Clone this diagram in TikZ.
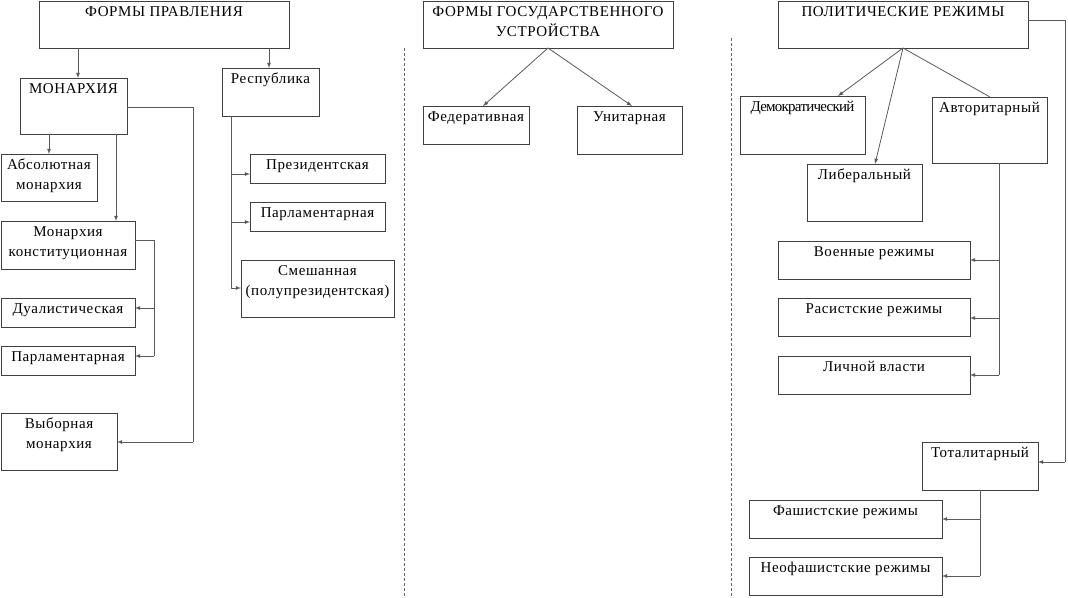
\documentclass[tikz,border=0pt]{standalone}
\usepackage{fontspec}
\setmainfont{Liberation Serif}[LetterSpace = 4]
\usetikzlibrary{arrows}

\begin{document}
\begin{tikzpicture}[x = 1pt, y = -1pt]
\tikzstyle{boxStyle} = [draw = black!75, line width = 1pt, anchor = north west, inner sep = 0pt, outer sep = 0pt]
\tikzstyle{textStyle} = [anchor = north, align = center, inner sep = 5pt, font = \fontsize{15}{20}\selectfont]
\tikzstyle{lineStyle} = [draw = black!65, line width = 0.8pt]
\tikzstyle{arrowStyle} = [lineStyle, -latex]
\tikzstyle{sepStyle} = [draw = black!60, line width = 0.7pt, densely dashed]
\useasboundingbox (0,0) rectangle (1068,597);
% forms of government
\node[boxStyle, minimum width = 250pt, minimum height = 47pt] (formy) at (39,1) {};
\node[textStyle] (formyT) at (formy.north) {ФОРМЫ ПРАВЛЕНИЯ};
\node[boxStyle, minimum width = 107pt, minimum height = 56pt] (mon) at (20,78) {};
\node[textStyle] (monT) at (mon.north) {МОНАРХИЯ};
\node[boxStyle, minimum width = 97pt, minimum height = 48pt] (res) at (222,68) {};
\node[textStyle] (resT) at (res.north) {Республика};
\node[boxStyle, minimum width = 96pt, minimum height = 47pt] (abs) at (1,154) {};
\node[textStyle] (absT) at (abs.north) {Абсолютная\\монархия};
\node[boxStyle, minimum width = 134pt, minimum height = 48pt] (kon) at (1,221) {};
\node[textStyle] (konT) at (kon.north) {Монархия\\конституционная};
\node[boxStyle, minimum width = 134pt, minimum height = 29pt] (dual) at (1,298) {};
\node[textStyle] (dualT) at (dual.north) {Дуалистическая};
\node[boxStyle, minimum width = 134pt, minimum height = 29pt] (parlm) at (1,346) {};
\node[textStyle] (parlmT) at (parlm.north) {Парламентарная};
\node[boxStyle, minimum width = 116pt, minimum height = 57pt] (vyb) at (1,413) {};
\node[textStyle] (vybT) at (vyb.north) {Выборная\\монархия};
\node[boxStyle, minimum width = 135pt, minimum height = 29pt] (pres) at (250,154) {};
\node[textStyle] (presT) at (pres.north) {Президентская};
\node[boxStyle, minimum width = 135pt, minimum height = 29pt] (parlr) at (250,202) {};
\node[textStyle] (parlrT) at (parlr.north) {Парламентарная};
\node[boxStyle, minimum width = 153pt, minimum height = 57pt] (smesh) at (241,260) {};
\node[textStyle] (smeshT) at (smesh.north) {Смешанная\\(полупрезидентская)};
% forms of state structure
\node[boxStyle, minimum width = 250pt, minimum height = 47pt] (fgu) at (423,1) {};
\node[textStyle] (fguT) at (fgu.north) {ФОРМЫ ГОСУДАРСТВЕННОГО\\УСТРОЙСТВА};
\node[boxStyle, minimum width = 106pt, minimum height = 38pt] (fed) at (423,106) {};
\node[textStyle] (fedT) at (fed.north) {Федеративная};
\node[boxStyle, minimum width = 105pt, minimum height = 48pt] (uni) at (577,106) {};
\node[textStyle] (uniT) at (uni.north) {Унитарная};
% political regimes
\node[boxStyle, minimum width = 250pt, minimum height = 47pt] (pr) at (778,1) {};
\node[textStyle] (prT) at (pr.north) {ПОЛИТИЧЕСКИЕ РЕЖИМЫ};
\node[boxStyle, minimum width = 125pt, minimum height = 58pt] (dem) at (740,96) {};
\node[textStyle] (demT) at (dem.north) {\addfontfeatures{LetterSpace = -5}Демократический};
\node[boxStyle, minimum width = 115pt, minimum height = 66pt] (avt) at (932,97) {};
\node[textStyle] (avtT) at (avt.north) {Авторитарный};
\node[boxStyle, minimum width = 115pt, minimum height = 57pt] (lib) at (807,164) {};
\node[textStyle] (libT) at (lib.north) {Либеральный};
\node[boxStyle, minimum width = 192pt, minimum height = 38pt] (voen) at (778,241) {};
\node[textStyle] (voenT) at (voen.north) {Военные режимы};
\node[boxStyle, minimum width = 192pt, minimum height = 38pt] (ras) at (778,298) {};
\node[textStyle] (rasT) at (ras.north) {Расистские режимы};
\node[boxStyle, minimum width = 192pt, minimum height = 38pt] (lich) at (778,356) {};
\node[textStyle] (lichT) at (lich.north) {Личной власти};
\node[boxStyle, minimum width = 116pt, minimum height = 48pt] (tot) at (922,442) {};
\node[textStyle] (totT) at (tot.north) {Тоталитарный};
\node[boxStyle, minimum width = 193pt, minimum height = 38pt] (fash) at (749,500) {};
\node[textStyle] (fashT) at (fash.north) {Фашистские режимы};
\node[boxStyle, minimum width = 193pt, minimum height = 38pt] (neo) at (749,557) {};
\node[textStyle] (neoT) at (neo.north) {Неофашистские режимы};
% separators
\draw[sepStyle] (404,48) -- (404,597);
\draw[sepStyle] (731,38) -- (731,597);
% connectors, left
\draw[arrowStyle] (formy.south -| 78,0) -- (mon.north -| 78,0);
\draw[arrowStyle] (formy.south -| 269,0) -- (res.north -| 269,0);
\draw[arrowStyle] (mon.south -| 49,0) -- (abs.north -| 49,0);
\draw[arrowStyle] (mon.south -| 116,0) -- (kon.north -| 116,0);
\draw[lineStyle] (kon.east |- 0,240) -- (154,240) -- (154,356);
\draw[arrowStyle] (154,308) -- (dual.east |- 0,308);
\draw[arrowStyle] (154,356) -- (parlm.east |- 0,356);
\draw[lineStyle] (mon.east |- 0,107) -- (193,107) -- (193,442);
\draw[arrowStyle] (193,442) -- (vyb.east |- 0,442);
\draw[lineStyle] (res.south -| 231,0) -- (231,288);
\draw[arrowStyle] (231,174) -- (pres.west |- 0,174);
\draw[arrowStyle] (231,222) -- (parlr.west |- 0,222);
\draw[arrowStyle] (231,288) -- (smesh.west |- 0,288);
% connectors, middle
\draw[arrowStyle] (fgu.south -| 548,0) -- (fed.north -| 483,0);
\draw[arrowStyle] (fgu.south -| 548,0) -- (uni.north -| 632,0);
% connectors, right
\draw[arrowStyle] (pr.south -| 903,0) -- (dem.north -| 838,0);
\draw[arrowStyle] (pr.south -| 903,0) -- (lib.north -| 875,0);
\draw[lineStyle] (pr.south -| 903,0) -- (avt.north -| 990,0);
\draw[lineStyle] (pr.east |- 0,20) -- (1065,20) -- (1065,462);
\draw[arrowStyle] (1065,462) -- (tot.east |- 0,462);
\draw[lineStyle] (avt.south -| 999,0) -- (999,375);
\draw[arrowStyle] (999,260) -- (voen.east |- 0,260);
\draw[arrowStyle] (999,318) -- (ras.east |- 0,318);
\draw[arrowStyle] (999,375) -- (lich.east |- 0,375);
\draw[lineStyle] (tot.south -| 980,0) -- (980,576);
\draw[arrowStyle] (980,519) -- (fash.east |- 0,519);
\draw[arrowStyle] (980,576) -- (neo.east |- 0,576);
\end{tikzpicture}
\end{document}
